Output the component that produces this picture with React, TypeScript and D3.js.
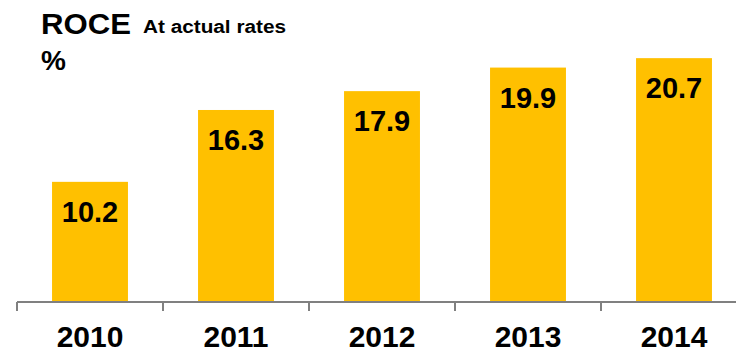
import React from "react";
import * as d3 from "d3";

const years = ["2010", "2011", "2012", "2013", "2014"];
const roce = [10.2, 16.3, 17.9, 19.9, 20.7];

const W = 736;
const H = 354;
const BASE = 302;

export default function App() {
  const xTicks = d3.scaleBand<string>().domain(years).range([17, 747]).padding(0);
  const x = d3
    .scaleBand<string>()
    .domain(years)
    .range([17, 747])
    .paddingInner(0.48)
    .paddingOuter(0.24);
  const y = d3.scaleLinear().domain([0, 25]).range([BASE, BASE - 25 * 11.78]);
  const font = "Arial, 'Liberation Sans', Helvetica, sans-serif";
  const tickXs = years.map((yr) => xTicks(yr) as number).concat([747]);

  return (
    <svg
      width={W}
      height={H}
      style={{ position: "absolute", left: 0, top: 0, display: "block", background: "#fff" }}
      fontFamily={font}
    >
      <text x={41} y={34} fontSize={29} fontWeight="bold" fill="#000" textLength={90} lengthAdjust="spacingAndGlyphs">
        ROCE
      </text>
      <text x={143} y={33} fontSize={17.5} fontWeight="bold" fill="#000" textLength={143} lengthAdjust="spacingAndGlyphs">
        At actual rates
      </text>
      <text x={41} y={70} fontSize={28} fontWeight="bold" fill="#000">
        %
      </text>
      {years.map((yr, i) => (
        <g key={yr}>
          <rect
            x={x(yr)}
            y={y(roce[i])}
            width={x.bandwidth()}
            height={BASE - y(roce[i])}
            fill="#FFC000"
          />
          <text
            x={(x(yr) as number) + x.bandwidth() / 2}
            y={y(roce[i]) + 40}
            textAnchor="middle"
            fontSize={29}
            fontWeight="bold"
            fill="#000"
          >
            {roce[i].toFixed(1)}
          </text>
          <text
            x={(xTicks(yr) as number) + xTicks.bandwidth() / 2}
            y={347}
            textAnchor="middle"
            fontSize={30}
            fontWeight="bold"
            fill="#000"
          >
            {yr}
          </text>
        </g>
      ))}
      <line x1={17} x2={W} y1={BASE} y2={BASE} stroke="#808080" strokeWidth={2} />
      {tickXs.map((tx, i) => (
        <line key={i} x1={tx} x2={tx} y1={BASE} y2={311} stroke="#808080" strokeWidth={2} />
      ))}
    </svg>
  );
}
